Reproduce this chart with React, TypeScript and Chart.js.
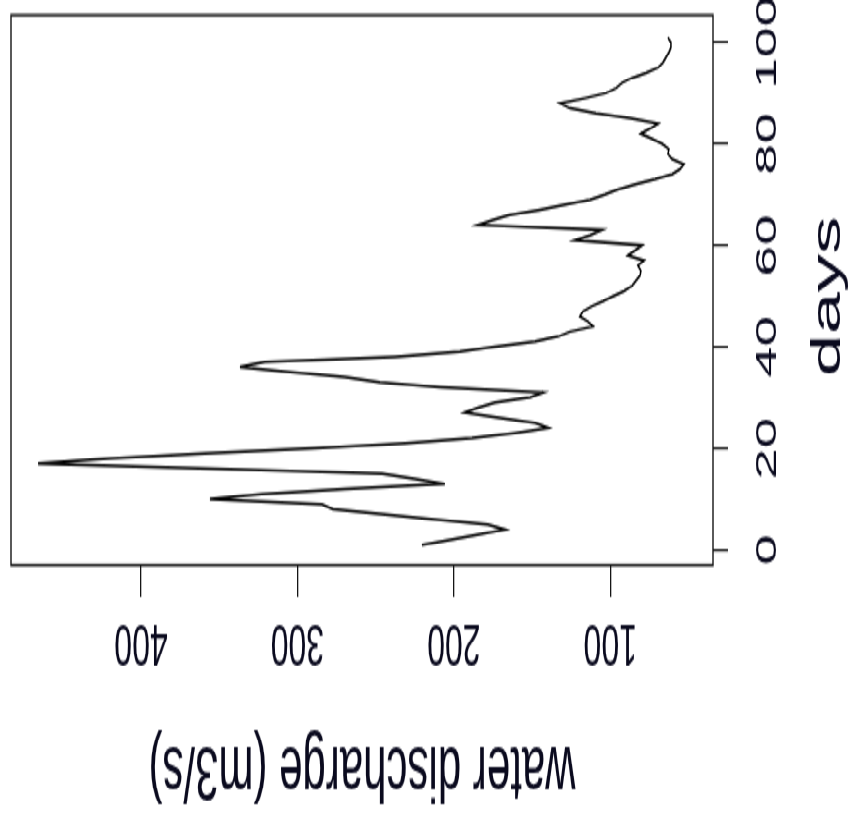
import { useEffect, useRef } from "react";
import { Chart, registerables } from "chart.js";

Chart.register(...registerables);

// ---- data ----
const days = [
  1, 2, 3, 4, 5, 6, 7, 8, 9, 10,
  11, 12, 13, 14, 15, 16, 17, 18, 19, 20,
  21, 22, 23, 24, 25, 26, 27, 28, 29, 30,
  31, 32, 33, 34, 35, 36, 37, 38, 39, 40,
  41, 42, 43, 44, 45, 46, 47, 48, 49, 50,
  51, 52, 53, 54, 55, 56, 57, 58, 59, 60,
  61, 62, 63, 64, 65, 66, 67, 68, 69, 70,
  71, 72, 73, 74, 75, 76, 77, 78, 79, 80,
  81, 82, 83, 84, 85, 86, 87, 88, 89, 90,
  91, 92, 93, 94, 95, 96, 97, 98, 99, 100, 101,
];

const discharge = [
  220.4, 202.5, 184.6, 167.3, 178.2, 211.4, 244.0, 277.2, 284.3, 355.9,
  322.6, 269.6, 205.7, 224.8, 245.9, 352.7, 465.8, 419.8, 359.1, 288.8,
  231.2, 188.4, 160.9, 139.8, 148.1, 170.5, 192.9, 184.6, 173.7, 151.3,
  143.0, 208.8, 247.2, 269.6, 304.7, 336.7, 320.7, 237.6, 196.1, 173.7,
  148.1, 133.4, 125.7, 111.0, 114.2, 119.4, 117.4, 111.7, 104.6, 98.3,
  91.2, 86.1, 83.6, 81.0, 80.4, 82.3, 78.4, 88.7, 84.2, 79.7,
  122.5, 113.0, 105.3, 184.6, 175.0, 164.1, 144.9, 128.9, 113.0, 103.4,
  95.1, 84.2, 71.4, 60.5, 55.4, 52.9, 60.5, 63.1, 62.5, 66.9,
  73.3, 80.4, 74.6, 69.5, 87.4, 109.1, 125.7, 132.1, 116.2, 102.7,
  96.3, 92.5, 86.1, 77.2, 69.5, 66.3, 64.4, 62.5, 61.2, 61.2, 63.1,
];

const dischargeTicks = [100, 200, 300, 400];
const dayTicks = [0, 20, 40, 60, 80, 100];
const xTitle = "water discharge (m3/s)";
const yTitle = "days";

// ---- drawing constants ----
const CW = 850;
const CH = 443;
const SY = 819 / CH;
const FONT = '"Liberation Sans", Arial, Helvetica, sans-serif';
const TEXT = "#0a0a1e";
const INK = "#151515";

const decorPlugin = {
  id: "decor",
  afterDraw(chart: any) {
    const { ctx, chartArea: a, scales } = chart;
    ctx.save();
    ctx.strokeStyle = INK;
    ctx.lineWidth = 1.4;
    ctx.strokeRect(a.left, a.top, a.right - a.left, a.bottom - a.top);

    ctx.fillStyle = TEXT;
    ctx.textAlign = "center";
    ctx.textBaseline = "alphabetic";

    // discharge tick labels (upside down)
    ctx.font = `32px ${FONT}`;
    for (const v of dischargeTicks) {
      const px = scales.x.getPixelForValue(v);
      ctx.save();
      ctx.translate(px, a.bottom + 32.4);
      ctx.rotate(Math.PI);
      ctx.fillText(String(v), 0, 0);
      ctx.restore();
    }

    // day tick labels (reading upward)
    ctx.font = `30px ${FONT}`;
    for (const v of dayTicks) {
      const py = scales.y.getPixelForValue(v);
      ctx.save();
      ctx.translate(a.right + 63, py);
      ctx.rotate(-Math.PI / 2);
      ctx.fillText(String(v), 0, 0);
      ctx.restore();
    }

    // x title (upside down)
    ctx.font = `42px ${FONT}`;
    ctx.save();
    ctx.translate((a.left + a.right) / 2, a.bottom + 98.4);
    ctx.rotate(Math.PI);
    ctx.fillText(xTitle, 0, 0);
    ctx.restore();

    // y title
    ctx.font = `41px ${FONT}`;
    ctx.save();
    ctx.translate(a.right + 127, (a.top + a.bottom) / 2 + 3.5);
    ctx.rotate(-Math.PI / 2);
    ctx.fillText(yTitle, 0, 0);
    ctx.restore();

    ctx.restore();
  },
};

export default function App() {
  const canvasRef = useRef<HTMLCanvasElement | null>(null);

  useEffect(() => {
    const canvas = canvasRef.current;
    if (!canvas) return;
    const points = days.map((d, i) => ({ x: discharge[i], y: d }));
    const chart = new Chart(canvas, {
      type: "line",
      data: {
        datasets: [
          {
            data: points,
            borderColor: "#000000",
            borderWidth: 1.5,
            pointRadius: 0,
            tension: 0,
            fill: false,
          },
        ],
      },
      plugins: [decorPlugin],
      options: {
        animation: false,
        responsive: false,
        devicePixelRatio: 1,
        indexAxis: "y",
        layout: { padding: { left: 11, top: 15 / SY, right: 0, bottom: 0 } },
        plugins: {
          legend: { display: false },
          tooltip: { enabled: false },
        },
        scales: {
          x: {
            type: "linear",
            position: "bottom",
            reverse: true,
            min: 34.3,
            max: 483.1,
            border: { display: false },
            grid: {
              display: true,
              drawOnChartArea: false,
              drawTicks: true,
              tickLength: 32 / SY,
              tickColor: INK,
              lineWidth: 1.3,
            },
            ticks: { display: false },
            afterBuildTicks: (scale: any) => {
              scale.ticks = dischargeTicks.map((v) => ({ value: v }));
            },
            afterFit: (scale: any) => {
              scale.height = CH - 565 / SY;
            },
          },
          y: {
            type: "linear",
            position: "right",
            min: -3,
            max: 105.4,
            border: { display: false },
            grid: {
              display: true,
              drawOnChartArea: false,
              drawTicks: true,
              tickLength: 15,
              tickColor: INK,
              lineWidth: 1.2,
            },
            ticks: { display: false },
            afterBuildTicks: (scale: any) => {
              scale.ticks = dayTicks.map((v) => ({ value: v }));
            },
            afterFit: (scale: any) => {
              scale.width = CW - 713;
            },
          },
        },
      } as any,
    });
    return () => chart.destroy();
  }, []);

  return (
    <div
      style={{
        position: "fixed",
        left: 0,
        top: 0,
        width: CW,
        height: CH,
        background: "#ffffff",
        transformOrigin: "0 0",
        transform: `scale(1, ${SY})`,
      }}
    >
      <canvas ref={canvasRef} width={CW} height={CH} />
    </div>
  );
}
